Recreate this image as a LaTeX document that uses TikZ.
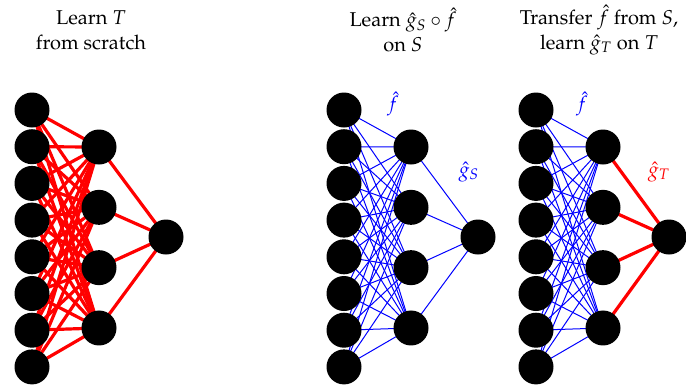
\documentclass[tikz,border=0pt]{standalone}
\usepackage[T1]{fontenc}
\usepackage{mathpazo}
\usetikzlibrary{backgrounds}
\tikzset{
  neuron/.style={circle,fill=black,inner sep=0pt,minimum size=17.5pt},
  redline/.style={draw=red,line width=1.6pt},
  blueline/.style={draw=blue,line width=0.5pt},
  title/.style={align=center,font=\fontsize{10}{12.5}\selectfont},
  lab/.style={font=\fontsize{10}{12}\selectfont}
}
\begin{document}
\begin{tikzpicture}[x=0.5pt,y=-0.5pt]
\useasboundingbox (0,0) rectangle (686,387);
% network positions: input x, hidden x, output x
\foreach \n/\xi/\xh/\xo in {A/32/99/166, B/344/411/478, C/536/603/669}{
  \foreach \i in {1,...,8}{
    \node[neuron] (\n i\i) at (\xi,{110+36.7*(\i-1)}) {};
  }
  \foreach \j in {1,...,4}{
    \node[neuron] (\n h\j) at (\xh,{147+60.33*(\j-1)}) {};
  }
  \node[neuron] (\n o) at (\xo,237) {};
}
\begin{pgfonlayer}{background}
\foreach \i in {1,...,8}{
  \foreach \j in {1,...,4}{
    \draw[redline] (Ai\i.center) -- (Ah\j.center);
    \draw[blueline] (Bi\i.center) -- (Bh\j.center);
    \draw[blueline] (Ci\i.center) -- (Ch\j.center);
  }
}
\foreach \j in {1,...,4}{
  \draw[redline] (Ah\j.center) -- (Ao.center);
  \draw[blueline] (Bh\j.center) -- (Bo.center);
  \draw[redline] (Ch\j.center) -- (Co.center);
}
\end{pgfonlayer}
% titles
\node[title] (t1) at (91,30) {Learn $T$\\from scratch};
\node[title] (t2) at (403,30) {Learn $\hat{g}_S\circ\hat{f}$\\on $S$};
\node[title] (t3) at (599,30) {Transfer $\hat{f}$ from $S$,\\learn $\hat{g}_T$ on $T$};
% labels
\node[lab,text=blue] (lf2) at (393,104) {$\hat{f}$};
\node[lab,text=blue] (lg2) at (469,172) {$\hat{g}_S$};
\node[lab,text=blue] (lf3) at (582,104) {$\hat{f}$};
\node[lab,text=red] (lg3) at (659,172) {$\hat{g}_T$};
\end{tikzpicture}
\end{document}
